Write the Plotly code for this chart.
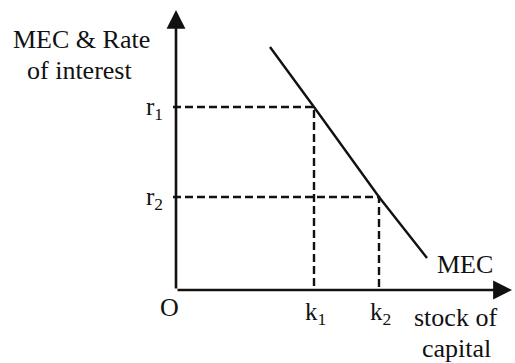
import plotly.graph_objects as go

# Marginal efficiency of capital (MEC) schedule, in diagram units
mec_capital = [9.4, 13.8, 20.3, 25.1]
mec_rate = [24.3, 18.3, 9.3, 3.2]

# Interest rates and the capital stocks they call forth
rate_labels = ["r<sub>1</sub>", "r<sub>2</sub>"]
rates = [18.3, 9.3]
capital_labels = ["k<sub>1</sub>", "k<sub>2</sub>"]
capital = [13.8, 20.3]

# Axis extents
x_axis_end = 33.6
y_axis_end = 28.0

INK = "#111111"
FONT = "'Liberation Serif', 'DejaVu Serif', serif"

fig = go.Figure()

# MEC curve
fig.add_trace(go.Scatter(
    x=mec_capital, y=mec_rate, mode="lines",
    line=dict(color=INK, width=2.4), hoverinfo="skip",
))

# Dashed guides: rate -> curve -> capital stock
for r, k in zip(rates, capital):
    fig.add_trace(go.Scatter(
        x=[-0.3, k, k], y=[r, r, 0], mode="lines",
        line=dict(color=INK, width=2.4, dash="8px,4px"), hoverinfo="skip",
    ))

# Axes drawn as arrows from the origin
for tip_x, tip_y in [(0, y_axis_end), (x_axis_end, 0)]:
    fig.add_annotation(
        x=tip_x, y=tip_y, ax=0, ay=0, xref="x", yref="y", axref="x", ayref="y",
        showarrow=True, arrowhead=2, arrowsize=1.45, arrowwidth=2.6,
        arrowcolor=INK, text="",
    )

def label(text, x, y, size=26, xanchor="center", yanchor="middle"):
    fig.add_annotation(
        x=x, y=y, xref="x", yref="y", text=text, showarrow=False,
        xanchor=xanchor, yanchor=yanchor,
        font=dict(family=FONT, size=size, color=INK),
    )

label("MEC &amp; Rate", -9.5, 25.1)
label("of interest", -9.7, 22.0)

for t, r in zip(rate_labels, rates):
    label(t, -1.1, r - 0.1, size=25, xanchor="right")

for t, k in zip(capital_labels, capital):
    label(t, k + 0.1, -0.6, size=25, yanchor="top")

label("O", -0.7, -1.7)
label("stock of", 27.9, -2.7)
label("capital", 28.0, -5.8)
label("MEC", 28.9, 2.6)

fig.update_xaxes(range=[-17.6, 33.9], visible=False, fixedrange=True)
fig.update_yaxes(range=[-7.3, 29.0], visible=False, fixedrange=True)
fig.update_layout(
    width=515, height=363, margin=dict(l=0, r=0, t=0, b=0),
    paper_bgcolor="white", plot_bgcolor="white", showlegend=False,
    font=dict(family=FONT),
)

fig.write_html("out.html")
